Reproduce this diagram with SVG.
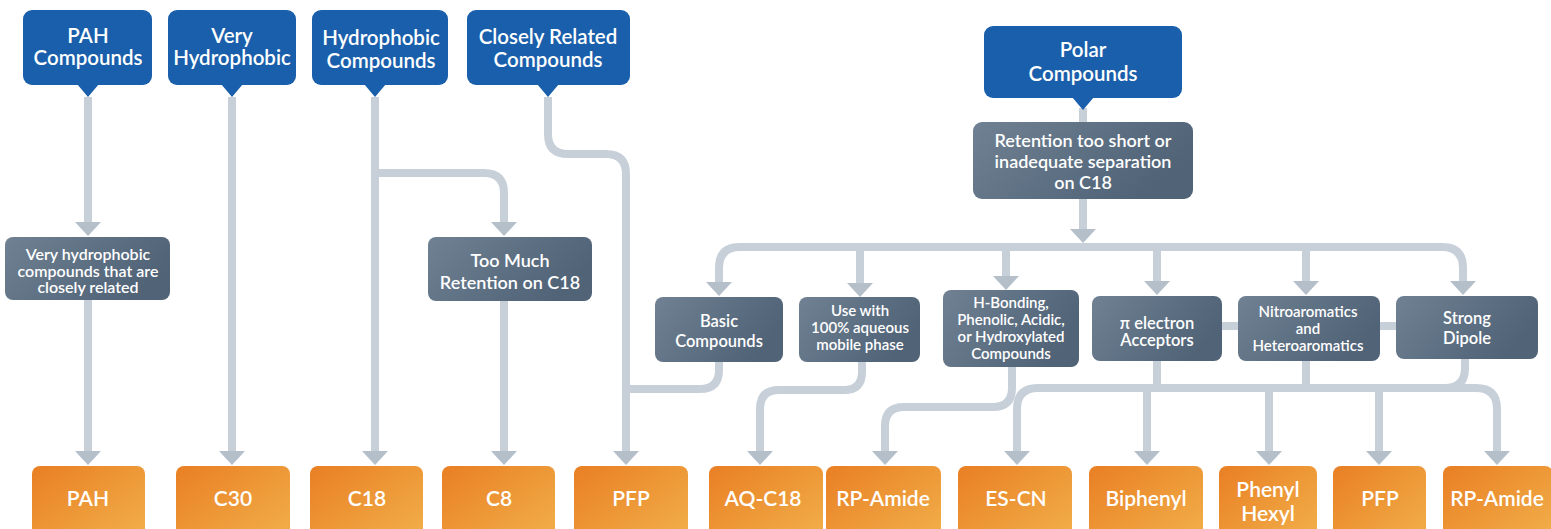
<svg xmlns="http://www.w3.org/2000/svg" width="1551" height="529" viewBox="0 0 1551 529">
<style>
.blue{fill:#1a5fab}
.grey{fill:url(#gg)}
.orange{fill:url(#og)}
.t{font-family:Lato,"Liberation Sans",sans-serif;fill:#fff;text-anchor:middle;dominant-baseline:central}
.tb{font-size:20.5px;font-weight:600}
.tg{font-size:18px;font-weight:600}
.ts{font-size:16px;font-weight:600}
.tr{font-size:16.5px;font-weight:600}
.tq{font-size:15px;font-weight:600}
.to{font-size:21px;font-weight:600}
.c{fill:none;stroke:#c7d0d9;stroke-width:8}
.a{marker-end:url(#ah)}
</style>
<defs>
<linearGradient id="gg" x1="0" y1="0" x2="1" y2="0.4">
<stop offset="0" stop-color="#6f8192"/>
<stop offset="1" stop-color="#506377"/>
</linearGradient>
<linearGradient id="og" x1="0" y1="0" x2="1" y2="1">
<stop offset="0" stop-color="#e97f24"/>
<stop offset="1" stop-color="#f2b24c"/>
</linearGradient>
<marker id="ah" markerUnits="userSpaceOnUse" markerWidth="14" markerHeight="26" viewBox="0 -13 14 26" refX="4" refY="0" orient="auto">
<path d="M0,-13 L14,0 L0,13 z" fill="#b4bfca"/>
</marker>
</defs>
<g id="connectors">
<path class="c a" d="M88,97 L88,226"/>
<path class="c a" d="M88,300 L88,455"/>
<path class="c a" d="M232,97 L232,455"/>
<path class="c a" d="M375,97 L375,455"/>
<path class="c a" d="M375,173 L484,173 Q504,173 504,193 L504,226"/>
<path class="c a" d="M504,301 L504,455"/>
<path class="c a" d="M548,97 L548,134 Q548,154 568,154 L606,154 Q626,154 626,174 L626,455"/>
<path class="c" d="M719,362 L719,370 Q719,389 700,389 L626,389"/>
<path class="c a" d="M862,362 L862,372 Q862,390 844,390 L779,390 Q760,390 760,409 L760,455"/>
<path class="c a" d="M1012,367 L1012,388 Q1012,407 993,407 L904,407 Q885,407 885,426 L885,455"/>
<path class="c" d="M1083,108 L1083,124"/>
<path class="c a" d="M1083,199 L1083,233"/>
<path class="c a" d="M1083,247 L740,247 Q719,247 719,268 L719,286"/>
<path class="c a" d="M1083,247 L1442,247 Q1463,247 1463,268 L1463,285"/>
<path class="c a" d="M860,247 L860,287"/>
<path class="c a" d="M1006,247 L1006,280"/>
<path class="c a" d="M1157,247 L1157,285"/>
<path class="c a" d="M1306,247 L1306,285"/>
<path class="c" d="M1222,326 L1396,326"/>
<path class="c" d="M1157,360 L1157,388"/>
<path class="c" d="M1306,360 L1306,388"/>
<path class="c" d="M1465,358 L1465,368 Q1465,388 1445,388"/>
<path class="c a" d="M1260,388 L1038,388 Q1017,388 1017,409 L1017,455"/>
<path class="c a" d="M1260,388 L1476,388 Q1497,388 1497,409 L1497,455"/>
<path class="c a" d="M1147,388 L1147,455"/>
<path class="c a" d="M1269,388 L1269,455"/>
<path class="c a" d="M1379,388 L1379,455"/>
</g>
<g id="n-pah-compounds">
<rect class="blue" x="23" y="10" width="129" height="75" rx="9"/>
<path class="blue" d="M77,84 L99,84 L88,97 z"/>
<text class="t tb" x="88" y="35">PAH</text>
<text class="t tb" x="88" y="57">Compounds</text>
</g>
<g id="n-very-hydrophobic">
<rect class="blue" x="168" y="10" width="128" height="75" rx="9"/>
<path class="blue" d="M221,84 L243,84 L232,97 z"/>
<text class="t tb" x="232" y="35">Very</text>
<text class="t tb" x="232" y="57">Hydrophobic</text>
</g>
<g id="n-hydrophobic-compounds">
<rect class="blue" x="312" y="10" width="136" height="75" rx="9"/>
<path class="blue" d="M364,84 L386,84 L375,97 z"/>
<text class="t tb" x="381" y="37">Hydrophobic</text>
<text class="t tb" x="381" y="60">Compounds</text>
</g>
<g id="n-closely-related">
<rect class="blue" x="467" y="10" width="163" height="75" rx="9"/>
<path class="blue" d="M537,84 L559,84 L548,97 z"/>
<text class="t tb" x="548" y="36">Closely Related</text>
<text class="t tb" x="548" y="59">Compounds</text>
</g>
<g id="n-polar-compounds">
<rect class="blue" x="984" y="26" width="198" height="72" rx="9"/>
<path class="blue" d="M1072,97 L1094,97 L1083,110 z"/>
<text class="t tb" x="1083" y="49">Polar</text>
<text class="t tb" x="1083" y="73">Compounds</text>
</g>
<g id="n-retention-short">
<rect class="grey" x="973" y="122" width="220" height="77" rx="9"/>
<text class="t tg" x="1083" y="140">Retention too short or</text>
<text class="t tg" x="1083" y="161">inadequate separation</text>
<text class="t tg" x="1083" y="182">on C18</text>
</g>
<g id="n-very-hydrophobic-related">
<rect class="grey" x="5" y="237" width="165" height="63" rx="8"/>
<text class="t ts" x="88" y="253">Very hydrophobic</text>
<text class="t ts" x="88" y="270">compounds that are</text>
<text class="t ts" x="88" y="286">closely related</text>
</g>
<g id="n-too-much">
<rect class="grey" x="428" y="237" width="164" height="64" rx="8"/>
<text class="t tg" x="510" y="260">Too Much</text>
<text class="t tg" x="510" y="282">Retention on C18</text>
</g>
<g id="n-basic">
<rect class="grey" x="655" y="297" width="128" height="65" rx="8"/>
<text class="t tr" x="719" y="321">Basic</text>
<text class="t tr" x="719" y="341">Compounds</text>
</g>
<g id="n-use-with">
<rect class="grey" x="799" y="297" width="121" height="65" rx="8"/>
<text class="t tq" x="860" y="310">Use with</text>
<text class="t tq" x="860" y="327">100% aqueous</text>
<text class="t tq" x="860" y="344">mobile phase</text>
</g>
<g id="n-h-bonding">
<rect class="grey" x="943" y="290" width="136" height="77" rx="8"/>
<text class="t tq" x="1011" y="302">H-Bonding,</text>
<text class="t tq" x="1011" y="319">Phenolic, Acidic,</text>
<text class="t tq" x="1011" y="336">or Hydroxylated</text>
<text class="t tq" x="1011" y="353">Compounds</text>
</g>
<g id="n-pi-electron">
<rect class="grey" x="1092" y="296" width="130" height="65" rx="8"/>
<text class="t tr" x="1157" y="323">π electron</text>
<text class="t tr" x="1157" y="340">Acceptors</text>
</g>
<g id="n-nitroaromatics">
<rect class="grey" x="1238" y="296" width="142" height="65" rx="8"/>
<text class="t tq" x="1308" y="311">Nitroaromatics</text>
<text class="t tq" x="1308" y="328">and</text>
<text class="t tq" x="1308" y="345">Heteroaromatics</text>
</g>
<g id="n-strong-dipole">
<rect class="grey" x="1396" y="296" width="142" height="63" rx="8"/>
<text class="t tr" x="1467" y="318">Strong</text>
<text class="t tr" x="1467" y="338">Dipole</text>
</g>
<g id="n-pah">
<rect class="orange" x="32" y="466" width="113" height="80" rx="8"/>
<text class="t to" x="88" y="497">PAH</text>
</g>
<g id="n-c30">
<rect class="orange" x="176" y="466" width="114" height="80" rx="8"/>
<text class="t to" x="233" y="497">C30</text>
</g>
<g id="n-c18">
<rect class="orange" x="310" y="466" width="113" height="80" rx="8"/>
<text class="t to" x="367" y="497">C18</text>
</g>
<g id="n-c8">
<rect class="orange" x="442" y="466" width="113" height="80" rx="8"/>
<text class="t to" x="499" y="497">C8</text>
</g>
<g id="n-pfp-1">
<rect class="orange" x="574" y="466" width="114" height="80" rx="8"/>
<text class="t to" x="631" y="497">PFP</text>
</g>
<g id="n-aq-c18">
<rect class="orange" x="709" y="466" width="114" height="80" rx="8"/>
<text class="t to" x="763" y="497">AQ-C18</text>
</g>
<g id="n-rp-amide-1">
<rect class="orange" x="826" y="466" width="115" height="80" rx="8"/>
<text class="t to" x="883" y="497">RP-Amide</text>
</g>
<g id="n-es-cn">
<rect class="orange" x="958" y="466" width="114" height="80" rx="8"/>
<text class="t to" x="1016" y="497">ES-CN</text>
</g>
<g id="n-biphenyl">
<rect class="orange" x="1089" y="466" width="114" height="80" rx="8"/>
<text class="t to" x="1146" y="497">Biphenyl</text>
</g>
<g id="n-phenyl-hexyl">
<rect class="orange" x="1219" y="466" width="98" height="80" rx="8"/>
<text class="t to" x="1268" y="488">Phenyl</text>
<text class="t to" x="1268" y="512">Hexyl</text>
</g>
<g id="n-pfp-2">
<rect class="orange" x="1333" y="466" width="93" height="80" rx="8"/>
<text class="t to" x="1380" y="497">PFP</text>
</g>
<g id="n-rp-amide-2">
<rect class="orange" x="1443" y="466" width="110" height="80" rx="8"/>
<text class="t to" x="1497" y="497">RP-Amide</text>
</g>
</svg>
